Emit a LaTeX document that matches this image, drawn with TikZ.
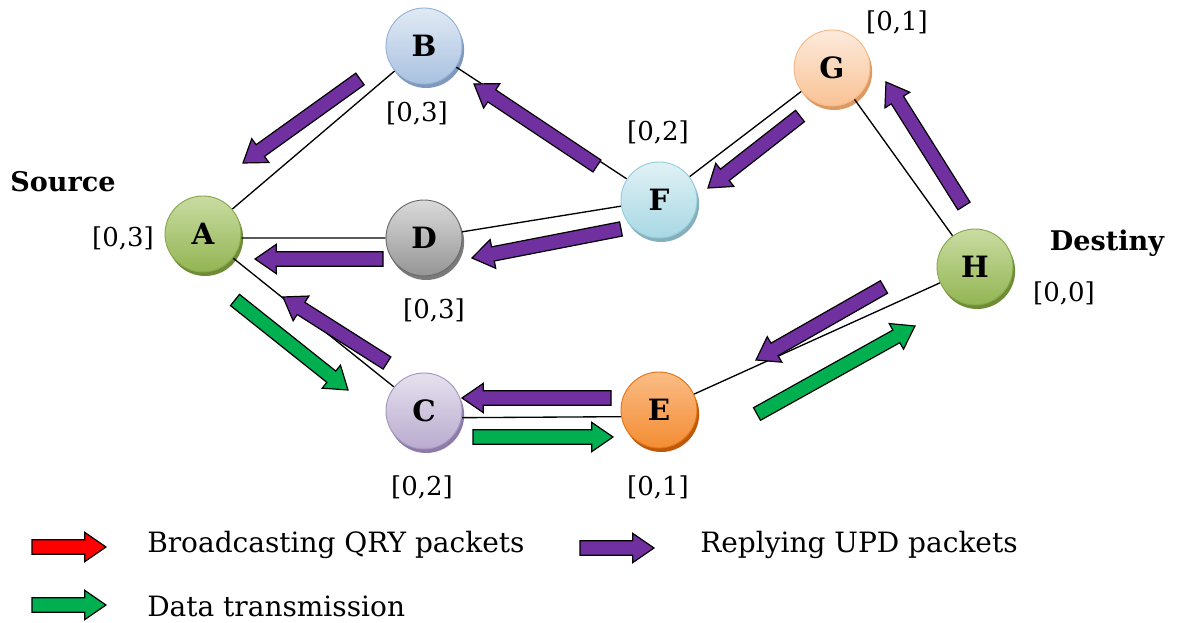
\documentclass[tikz,border=0pt]{standalone}
\usepackage{fontspec}
\setmainfont{DejaVu Serif}
\usetikzlibrary{calc,backgrounds}

% arrow fills
\definecolor{qry}{HTML}{FF0000}
\definecolor{upd}{HTML}{7030A0}
\definecolor{dat}{HTML}{00B050}
% node palettes
\definecolor{grnT}{HTML}{C9DCA2}\definecolor{grnB}{HTML}{93B553}\definecolor{grnR}{HTML}{6F8B36}\definecolor{grnD}{HTML}{86A84A}
\definecolor{bluT}{HTML}{E1EAF5}\definecolor{bluB}{HTML}{A9C1E0}\definecolor{bluR}{HTML}{7F98BC}\definecolor{bluD}{HTML}{95B3D7}
\definecolor{cyaT}{HTML}{E0F1F5}\definecolor{cyaB}{HTML}{A8D8E4}\definecolor{cyaR}{HTML}{86AEBB}\definecolor{cyaD}{HTML}{93CDDD}
\definecolor{gryT}{HTML}{DADADA}\definecolor{gryB}{HTML}{959595}\definecolor{gryR}{HTML}{7A7A7A}\definecolor{gryD}{HTML}{6A6A6A}
\definecolor{lavT}{HTML}{E6E1EE}\definecolor{lavB}{HTML}{B9ABCF}\definecolor{lavR}{HTML}{8C7BA8}\definecolor{lavD}{HTML}{A496C0}
\definecolor{orgT}{HTML}{FBBC86}\definecolor{orgB}{HTML}{F38D33}\definecolor{orgR}{HTML}{C0580C}\definecolor{orgD}{HTML}{E3740F}
\definecolor{pchT}{HTML}{FDEBDD}\definecolor{pchB}{HTML}{F9C294}\definecolor{pchR}{HTML}{DC9A62}\definecolor{pchD}{HTML}{F5B887}

\tikzset{
  ball/.style={circle, minimum size=57pt, inner sep=0pt, line width=0.7pt,
    font=\fontsize{22}{26}\selectfont\bfseries},
  ballG/.style={ball, top color=grnT, bottom color=grnB, draw=grnD},
  ballB/.style={ball, top color=bluT, bottom color=bluB, draw=bluD},
  ballF/.style={ball, top color=cyaT, bottom color=cyaB, draw=cyaD},
  ballD/.style={ball, top color=gryT, bottom color=gryB, draw=gryD},
  ballC/.style={ball, top color=lavT, bottom color=lavB, draw=lavD},
  ballE/.style={ball, top color=orgT, bottom color=orgB, draw=orgD},
  ballP/.style={ball, top color=pchT, bottom color=pchB, draw=pchD},
  link/.style={draw=black, line width=1pt},
  tag/.style={font=\fontsize{19.5}{23}\selectfont, inner sep=0pt},
  title/.style={font=\fontsize{20.3}{24}\selectfont\bfseries, inner sep=0pt},
  legend/.style={font=\fontsize{21}{25}\selectfont, inner sep=0pt, anchor=west},
  blockarrow/.style={draw=black, line width=0.9pt, line join=miter},
}

% block arrow from #2 (tail) to #3 (tip), filled with #1
\newcommand\blockarrow[3]{%
  \draw[blockarrow, fill=#1]
    ($(#2)!5.4pt!90:(#3)$) --
    ($(#3)!16pt!(#2)!5.4pt!90:(#3)$) --
    ($(#3)!16pt!(#2)!11pt!90:(#3)$) --
    (#3) --
    ($(#3)!16pt!(#2)!11pt!-90:(#3)$) --
    ($(#3)!16pt!(#2)!5.4pt!-90:(#3)$) --
    ($(#2)!5.4pt!-90:(#3)$) -- cycle;
}
% darker lower rim under a ball
\newcommand\ballrim[2]{%
  \fill[#2] ([shift={(1.6pt,-3pt)}]#1.center) circle[radius=28.5pt];
}

\begin{document}
\begin{tikzpicture}[x=0.75pt, y=-0.75pt]
\useasboundingbox (0,0) rectangle (1186,623);

% stations
\node[ballG] (A) at (203,234) {A};
\node[ballB] (B) at (424,46)  {B};
\node[ballD] (D) at (424,238) {D};
\node[ballF] (F) at (659,200) {F};
\node[ballC] (C) at (424,411) {C};
\node[ballE] (E) at (659,410) {E};
\node[ballP] (G) at (832,68)  {G};
\node[ballG] (H) at (975,267) {H};

\begin{scope}[on background layer]
  \ballrim{A}{grnR}\ballrim{B}{bluR}\ballrim{D}{gryR}\ballrim{F}{cyaR}
  \ballrim{C}{lavR}\ballrim{E}{orgR}\ballrim{G}{pchR}\ballrim{H}{grnR}
  \draw[link] (A) -- (B);
  \draw[link] (A.-6) -- (D.west);
  \draw[link] (A) -- (C);
  \draw[link] (B) -- (F);
  \draw[link] (D) -- (F);
  \draw[link] (C.-10) -- (E.190);
  \draw[link] (F) -- (G);
  \draw[link] (G) -- (H);
  \draw[link] (E) -- (H);
\end{scope}

% route costs and roles
\node[title] (src) at (63,182)   {Source};
\node[title] (dst) at (1107,243) {Destiny};
\node[tag] (lA) at (123,238) {[0,3]};
\node[tag] (lB) at (417,113) {[0,3]};
\node[tag] (lD) at (434,310) {[0,3]};
\node[tag] (lF) at (658,132) {[0,2]};
\node[tag] (lG) at (897,22)  {[0,1]};
\node[tag] (lH) at (1064,293) {[0,0]};
\node[tag] (lC) at (422,487) {[0,2]};
\node[tag] (lE) at (658,487) {[0,1]};

% reply packets
\coordinate (u1s) at (360,79);  \coordinate (u1e) at (243,163);
\coordinate (u2s) at (597,166); \coordinate (u2e) at (474,84);
\coordinate (u3s) at (800,116); \coordinate (u3e) at (708,188);
\coordinate (u4s) at (621,229); \coordinate (u4e) at (472,258);
\coordinate (u5s) at (383,259); \coordinate (u5e) at (255,259);
\coordinate (u6s) at (387,363); \coordinate (u6e) at (283,297);
\coordinate (u7s) at (611,398); \coordinate (u7e) at (462,398);
\coordinate (u8s) at (884,287); \coordinate (u8e) at (756,360);
\coordinate (u9s) at (964,206); \coordinate (u9e) at (886,82);
\foreach \i in {1,...,9} {\blockarrow{upd}{u\i s}{u\i e}}

% data transmission
\coordinate (d1s) at (235,300); \coordinate (d1e) at (348,390);
\coordinate (d2s) at (473,437); \coordinate (d2e) at (613,437);
\coordinate (d3s) at (757,414); \coordinate (d3e) at (915,326);
\foreach \i in {1,2,3} {\blockarrow{dat}{d\i s}{d\i e}}

% legend
\coordinate (k1s) at (32,547);  \coordinate (k1e) at (106,547);
\coordinate (k2s) at (580,548); \coordinate (k2e) at (654,548);
\coordinate (k3s) at (32,605);  \coordinate (k3e) at (106,605);
\blockarrow{qry}{k1s}{k1e}
\blockarrow{upd}{k2s}{k2e}
\blockarrow{dat}{k3s}{k3e}
\node[legend] (t1) at (147,545) {Broadcasting QRY packets};
\node[legend] (t2) at (700,545) {Replying UPD packets};
\node[legend] (t3) at (147,606) {Data transmission};
\end{tikzpicture}
\end{document}
